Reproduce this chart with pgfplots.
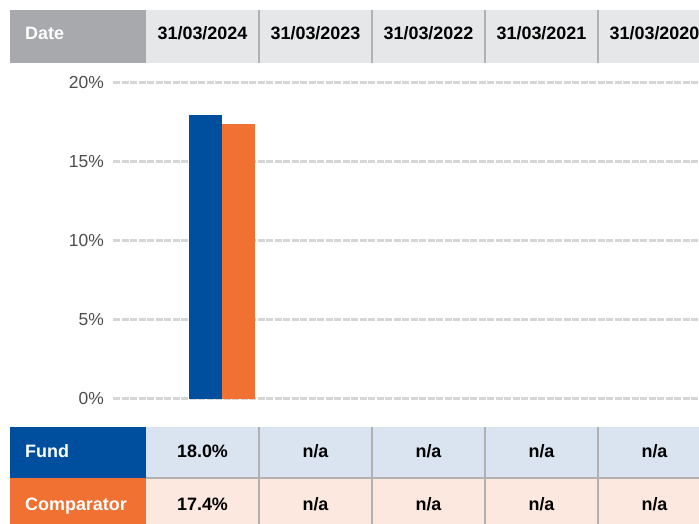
\documentclass[border=0pt]{standalone}
\usepackage{pgfplots}
\pgfplotsset{compat=1.18}
\usepackage{fontspec}
\setmainfont{Liberation Sans}
\definecolor{fundblue}{HTML}{004F9F}
\definecolor{comporange}{HTML}{F07132}
\definecolor{hdrgray}{HTML}{A7A9AC}
\definecolor{hdrlight}{HTML}{E6E7E8}
\definecolor{fundlight}{HTML}{D9E4F0}
\definecolor{complight}{HTML}{FCE8DF}
\definecolor{sepgray}{HTML}{B1B1B1}
\definecolor{gridgray}{HTML}{D6D6D6}
\definecolor{ticktext}{HTML}{4D4D4D}
\newcommand{\bigf}{\fontsize{18}{21}\selectfont}
\begin{document}
\begin{tikzpicture}[x=1bp,y=1bp]
\useasboundingbox (0,0) rectangle (699,524);
\clip (0,0) rectangle (699,524);
% header
\fill[hdrgray] (10,461) rectangle (146,514);
\fill[hdrlight] (146,461) rectangle (720,514);
\foreach \x in {259,372,485,598} \draw[sepgray, line width=1.5bp] (\x,461) -- (\x,514);
\node[anchor=base west, inner sep=0pt, text=white, font=\bigf\bfseries] at (25,484) {Date};
\foreach \x/\t in {202.5/{31/03/2024}, 315.5/{31/03/2023}, 428.5/{31/03/2022}, 541.5/{31/03/2021}, 654.5/{31/03/2020}}
  \node[anchor=base, inner sep=0pt, text=black, font=\bigf\bfseries] at (\x,484) {\t};
% bottom table
\fill[fundblue] (10,46) rectangle (146,97);
\fill[fundlight] (146,46) rectangle (720,97);
\fill[comporange] (10,-5) rectangle (146,46);
\fill[complight] (146,-5) rectangle (720,46);
\draw[sepgray, line width=1.2bp] (146,46) -- (720,46);
\foreach \x in {259,372,485,598} \draw[sepgray, line width=1.5bp] (\x,-5) -- (\x,97);
\node[anchor=base west, inner sep=0pt, text=white, font=\bigf\bfseries] at (25,66) {Fund};
\node[anchor=base west, inner sep=0pt, text=white, font=\bigf\bfseries] at (25,13) {Comparator};
\node[anchor=base, inner sep=0pt, font=\bigf\bfseries] at (202.5,66) {18.0\%};
\node[anchor=base, inner sep=0pt, font=\bigf\bfseries] at (202.5,13) {17.4\%};
\foreach \x in {315.5,428.5,541.5,654.5} {
  \node[anchor=base, inner sep=0pt, font=\bigf\bfseries] at (\x,66) {n/a};
  \node[anchor=base, inner sep=0pt, font=\bigf\bfseries] at (\x,13) {n/a};
}
\begin{axis}[
  at={(113bp,125bp)}, anchor=south west,
  scale only axis, width=586bp, height=316bp,
  xmin=113, xmax=699, ymin=0, ymax=20,
  ybar=0pt, bar width=33bp,
  clip=false,
  axis line style={draw=none},
  major tick length=0pt,
  xtick=\empty,
  ytick={0,5,10,15,20},
  ymajorgrids,
  major grid style={gridgray, line width=3bp, dash pattern=on 7bp off 1.5bp},
  /pgf/number format/assume math mode=true,
  yticklabel={\pgfmathprintnumber{\tick}\%},
  yticklabel style={font=\fontsize{17.5}{20}\selectfont, text=ticktext, inner sep=0pt, anchor=east, xshift=-9bp},
]
\addplot[fill=fundblue, draw=none] coordinates {(222,18.0)};
\addplot[fill=comporange, draw=none] coordinates {(222,17.4)};
\end{axis}
\end{tikzpicture}
\end{document}
